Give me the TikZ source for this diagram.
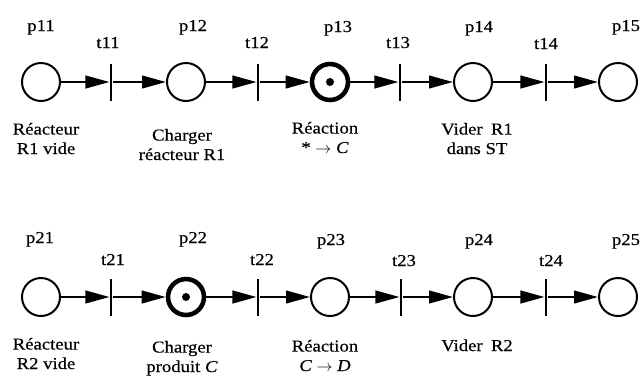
\documentclass[tikz,border=0pt]{standalone}
\usepackage{fontspec}
\setmainfont[FakeStretch=1.12, FakeBold=0.4]{Liberation Serif}
\usetikzlibrary{arrows.meta}

\begin{document}
\begin{tikzpicture}[x=0.75pt, y=-0.75pt,
    place/.style={circle, draw, line width=1.5pt, minimum size=28.5pt, inner sep=0pt},
    marked/.style={place, line width=3.4pt, minimum size=27pt,
      path picture={\fill (path picture bounding box.center) circle (3pt);}},
    trans/.style={rectangle, fill, minimum width=1.9pt, minimum height=27.75pt, inner sep=0pt},
    flow/.style={line width=1.5pt, -{Triangle[length=18pt, width=9.5pt]}},
    tag/.style={font=\fontsize{12.5}{14}\selectfont, anchor=base},
    note/.style={font=\fontsize{12.5}{14.6}\selectfont, align=center, anchor=base}]
    \useasboundingbox (0,0) rectangle (643,376);

    \node[place]  (p11) at (41,82)  {};
    \node[trans]  (t11) at (111,82) {};
    \node[place]  (p12) at (186,82) {};
    \node[trans]  (t12) at (258,82) {};
    \node[marked] (p13) at (330,82) {};
    \node[trans]  (t13) at (400,82) {};
    \node[place]  (p14) at (473,82) {};
    \node[trans]  (t14) at (546,82) {};
    \node[place]  (p15) at (618,82) {};

    \node[place]  (p21) at (41,297)  {};
    \node[trans]  (t21) at (111,297) {};
    \node[marked] (p22) at (186,297) {};
    \node[trans]  (t22) at (258,297) {};
    \node[place]  (p23) at (330,297) {};
    \node[trans]  (t23) at (401,297) {};
    \node[place]  (p24) at (473,297) {};
    \node[trans]  (t24) at (546,297) {};
    \node[place]  (p25) at (618,297) {};

    \draw[flow] (p11) -- (t11);
    \draw[flow] (t11) -- (p12);
    \draw[flow] (p12) -- (t12);
    \draw[flow] (t12) -- (p13);
    \draw[flow] (p13) -- (t13);
    \draw[flow] (t13) -- (p14);
    \draw[flow] (p14) -- (t14);
    \draw[flow] (t14) -- (p15);

    \draw[flow] (p21) -- (t21);
    \draw[flow] (t21) -- (p22);
    \draw[flow] (p22) -- (t22);
    \draw[flow] (t22) -- (p23);
    \draw[flow] (p23) -- (t23);
    \draw[flow] (t23) -- (p24);
    \draw[flow] (p24) -- (t24);
    \draw[flow] (t24) -- (p25);

    \node[tag] (lp11) at (41,31)  {p11};
    \node[tag] (lt11) at (108,48) {t11};
    \node[tag] (lp12) at (193,31) {p12};
    \node[tag] (lt12) at (257,48) {t12};
    \node[tag] (lp13) at (338,32) {p13};
    \node[tag] (lt13) at (398,48) {t13};
    \node[tag] (lp14) at (479,32) {p14};
    \node[tag] (lt14) at (546,49) {t14};
    \node[tag] (lp15) at (626,31) {p15};

    \node[tag] (lp21) at (40,243)  {p21};
    \node[tag] (lt21) at (113,265) {t21};
    \node[tag] (lp22) at (193,243) {p22};
    \node[tag] (lt22) at (262,265) {t22};
    \node[tag] (lp23) at (331,245) {p23};
    \node[tag] (lt23) at (404,266) {t23};
    \node[tag] (lp24) at (479,245) {p24};
    \node[tag] (lt24) at (551,266) {t24};
    \node[tag] (lp25) at (626,245) {p25};

    \node[note] (d11) at (46,154)  {Réacteur\\R1 vide};
    \node[note] (d12) at (182,160) {Charger\\réacteur R1};
    \node[note] (d13) at (325,153) {Réaction\\* $\rightarrow$ \textit{C}};
    \node[note] (d14) at (477,154) {Vider\enspace R1\\dans ST};

    \node[note] (d21) at (46,369)  {Réacteur\\R2 vide};
    \node[note] (d22) at (182,372) {Charger\\produit \textit{C}};
    \node[note] (d23) at (325,371) {Réaction\\\textit{C} $\rightarrow$ \textit{D}};
    \node[note] (d24) at (477,351) {Vider\enspace R2};
  \end{tikzpicture}
\end{document}
